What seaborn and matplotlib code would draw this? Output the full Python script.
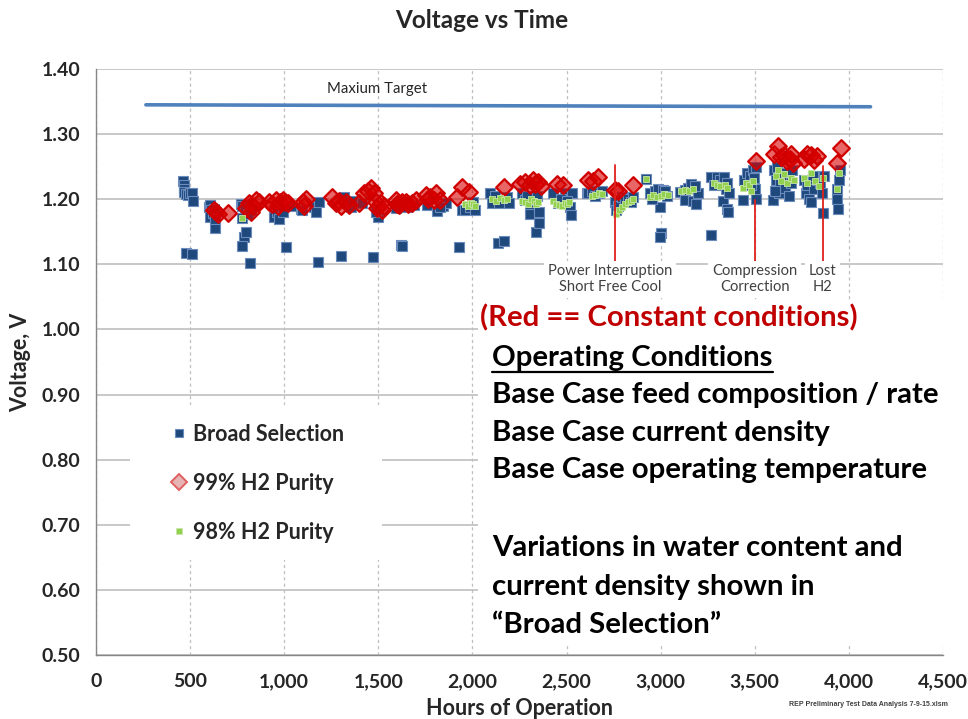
import matplotlib
matplotlib.use("Agg")
import matplotlib.pyplot as plt
import matplotlib.ticker as mticker
from matplotlib.patches import Rectangle
from matplotlib.lines import Line2D
import seaborn as sns
import pandas as pd

# ---------------- data ----------------
broad_hours = [462, 465, 467, 470, 478, 489, 500, 510, 515, 476, 512,
               600, 607, 612, 607, 619, 625, 634, 630,
               770, 777, 777, 784, 798, 774, 819, 826, 790, 805,
               948, 960, 974, 992, 1010, 1040, 1089, 1095,
               1159, 1170, 1186, 1181,
               1301, 1318, 1340, 1354, 1360, 1415,
               1472, 1500, 1490,
               1592, 1618, 1625, 1650, 1689,
               1759, 1812, 1841, 1857, 1830,
               1927, 1945, 1963, 1989, 2015, 2005,
               2095, 2104, 2139, 2135, 2167, 2183, 2192, 2120,
               2262, 2280, 2306, 2306, 2315, 2333, 2336, 2351, 2351, 2345, 2290,
               2430, 2456, 2492, 2518, 2523, 2527, 2470, 2505,
               2606, 2615, 2633, 2650, 2670, 2690,
               2757, 2765, 2775, 2792, 2810, 2827, 2853, 2840,
               2924, 2941, 2968, 2985, 2995, 3004, 2995, 3010, 3022, 3035, 2955,
               3101, 3127, 3128, 3145, 3163, 3172, 3190, 3198, 3185,
               3268, 3268, 3286, 3300, 3315, 3330, 3339, 3330, 3345, 3355, 3365, 3350, 3360,
               3436, 3445, 3460, 3475, 3490, 3498, 3507, 3500, 3480, 3505,
               3595, 3604, 3612, 3620, 3630, 3635, 3650, 3660, 3670, 3680, 3690, 3700, 3610,
               3762, 3770, 3780, 3790, 3800, 3815, 3830, 3845, 3855, 3868, 3865, 3810,
               3935, 3939, 3945, 3955, 3940]
broad_volts = [1.228, 1.222, 1.215, 1.211, 1.208, 1.206, 1.210, 1.209, 1.198, 1.118, 1.116,
               1.188, 1.191, 1.183, 1.173, 1.179, 1.185, 1.156, 1.170,
               1.193, 1.190, 1.171, 1.142, 1.149, 1.128, 1.102, 1.183, 1.186, 1.178,
               1.173, 1.180, 1.169, 1.181, 1.126, 1.190, 1.185, 1.183,
               1.188, 1.181, 1.196, 1.104,
               1.113, 1.204, 1.193, 1.188, 1.198, 1.194,
               1.111, 1.172, 1.180,
               1.186, 1.130, 1.128, 1.188, 1.191,
               1.191, 1.182, 1.189, 1.194, 1.188,
               1.127, 1.183, 1.183, 1.188, 1.183, 1.195,
               1.209, 1.194, 1.194, 1.133, 1.136, 1.204, 1.194, 1.205,
               1.209, 1.199, 1.183, 1.178, 1.196, 1.199, 1.150, 1.181, 1.163, 1.205, 1.205,
               1.209, 1.194, 1.209, 1.188, 1.176, 1.209, 1.200, 1.198,
               1.209, 1.209, 1.213, 1.205, 1.210, 1.212,
               1.196, 1.183, 1.190, 1.204, 1.200, 1.201, 1.204, 1.196,
               1.231, 1.209, 1.212, 1.215, 1.188, 1.148, 1.142, 1.214, 1.212, 1.205, 1.200,
               1.211, 1.214, 1.199, 1.218, 1.224, 1.197, 1.192, 1.209, 1.220,
               1.234, 1.145, 1.222, 1.234, 1.230, 1.222, 1.234, 1.197, 1.215, 1.225, 1.210, 1.185, 1.180,
               1.199, 1.230, 1.240, 1.235, 1.245, 1.232, 1.201, 1.215, 1.222, 1.250,
               1.199, 1.245, 1.230, 1.250, 1.210, 1.225, 1.240, 1.218, 1.235, 1.205, 1.225, 1.245, 1.212,
               1.230, 1.210, 1.222, 1.200, 1.195, 1.215, 1.230, 1.225, 1.210, 1.235, 1.179, 1.235,
               1.200, 1.215, 1.230, 1.245, 1.185]

h99_hours = [639, 625, 650, 700, 798, 815, 824, 835, 851, 865, 921, 935, 957, 965, 975,
             992, 1005, 1018, 1098, 1115, 1105, 1256, 1274, 1290, 1301, 1327, 1345, 1398,
             1424, 1445, 1460, 1477, 1486, 1495, 1513, 1521, 1530, 1592, 1600, 1610, 1628,
             1645, 1660, 1680, 1698, 1751, 1765, 1777, 1795, 1804, 1830, 1918, 1945, 1980,
             2165, 2254, 2280, 2306, 2320, 2335, 2350, 2365, 2448, 2483, 2615, 2640, 2668,
             2757, 2774, 2853, 3507, 3604, 3621, 3640, 3655, 3670, 3685, 3701, 3695, 3762,
             3780, 3800, 3815, 3830, 3939, 3956]
h99_volts = [1.181, 1.183, 1.178, 1.179, 1.186, 1.194, 1.181, 1.190, 1.199, 1.195, 1.196, 1.192, 1.199, 1.189, 1.195,
             1.199, 1.196, 1.194, 1.196, 1.200, 1.190, 1.204, 1.194, 1.198, 1.189, 1.196, 1.191, 1.194,
             1.209, 1.213, 1.217, 1.209, 1.196, 1.186, 1.194, 1.183, 1.190, 1.199, 1.192, 1.191, 1.195,
             1.196, 1.193, 1.194, 1.199, 1.206, 1.200, 1.204, 1.199, 1.209, 1.199, 1.204, 1.219, 1.211,
             1.219, 1.224, 1.226, 1.222, 1.230, 1.224, 1.226, 1.220, 1.224, 1.222, 1.230, 1.228, 1.234,
             1.214, 1.212, 1.222, 1.258, 1.270, 1.281, 1.265, 1.268, 1.258, 1.262, 1.255, 1.270, 1.262,
             1.270, 1.268, 1.260, 1.266, 1.255, 1.278]

h98_hours = [777, 1962, 1975, 1990, 2005, 2015, 2104, 2125, 2145, 2165, 2183,
             2262, 2280, 2295, 2310, 2325, 2340, 2350, 2430, 2445, 2460, 2475, 2490, 2505, 2515,
             2633, 2650, 2670, 2686, 2765, 2780, 2795, 2810, 2827, 2845, 2853,
             2924, 2941, 2960, 2980, 3000, 3020, 3040, 3110, 3130, 3150, 3172,
             3286, 3300, 3315, 3340, 3355, 3436, 3455, 3470, 3490, 3480,
             3614, 3625, 3640, 3655, 3670, 3690, 3710, 3762, 3780, 3800, 3820, 3840, 3865,
             3939, 3950]
h98_volts = [1.171, 1.193, 1.190, 1.194, 1.192, 1.189, 1.200, 1.198, 1.202, 1.199, 1.201,
             1.198, 1.196, 1.193, 1.200, 1.197, 1.192, 1.196, 1.197, 1.193, 1.191, 1.190, 1.194, 1.192, 1.195,
             1.205, 1.207, 1.210, 1.208, 1.178, 1.183, 1.188, 1.193, 1.195, 1.198, 1.200,
             1.231, 1.204, 1.206, 1.203, 1.205, 1.208, 1.207, 1.212, 1.214, 1.212, 1.216,
             1.225, 1.222, 1.220, 1.222, 1.218, 1.218, 1.225, 1.222, 1.228, 1.212,
             1.235, 1.245, 1.228, 1.238, 1.225, 1.232, 1.230, 1.232, 1.225, 1.240, 1.228, 1.220, 1.232,
             1.215, 1.240]

target_hours = [265, 4115]
target_volts = [1.345, 1.342]

event_hours = [2760, 3499, 3864]
event_top = [1.252, 1.199, 1.251]
event_bottom = [1.105, 1.105, 1.105]
event_labels = ["Power Interruption\nShort Free Cool", "Compression\nCorrection", "Lost\nH2"]
event_label_hours = [2732, 3499, 3859]

series_names = ["Broad Selection", "99% H2 Purity", "98% H2 Purity"]
x_ticks = [0, 500, 1000, 1500, 2000, 2500, 3000, 3500, 4000, 4500]
y_ticks = [0.50, 0.60, 0.70, 0.80, 0.90, 1.00, 1.10, 1.20, 1.30, 1.40]

text_lines = ["Operating Conditions",
              "Base Case feed composition / rate",
              "Base Case current density",
              "Base Case operating temperature",
              "Variations in water content and",
              "current density shown in",
              "\u201cBroad Selection\u201d"]

# ---------------- style ----------------
sns.set_style("white")
FONT = ["Lato", "DejaVu Sans"]
plt.rcParams["font.family"] = FONT

W, H = 968, 719
fig = plt.figure(figsize=(W / 100, H / 100), dpi=100)
ax = fig.add_axes([96 / W, 1 - 655 / H, 847 / W, 586 / H])

def fx(x):
    return x / W

def fy(y):
    return 1 - y / H

BLUE = "#1F497D"
RED = "#C00000"
GREEN = "#92D050"
RED_FACE = (0.85, 0.0, 0.0, 0.6)

df_b = pd.DataFrame({"h": broad_hours, "v": broad_volts})
df_r = pd.DataFrame({"h": h99_hours, "v": h99_volts})
df_g = pd.DataFrame({"h": h98_hours, "v": h98_volts})

sns.scatterplot(data=df_b, x="h", y="v", ax=ax, marker="s", s=46,
                color=BLUE, edgecolor="#6A8BBB", linewidth=0.8, zorder=3, legend=False)
sns.scatterplot(data=df_r, x="h", y="v", ax=ax, marker="D", s=72,
                facecolor=RED_FACE, edgecolor="#D00000", linewidth=1.6,
                zorder=4, legend=False)
sns.scatterplot(data=df_g, x="h", y="v", ax=ax, marker="s", s=22,
                color=GREEN, edgecolor="#C8E6A6", linewidth=0.6, zorder=5, legend=False)

df_t = pd.DataFrame({"h": target_hours, "v": target_volts})
sns.lineplot(data=df_t, x="h", y="v", ax=ax, color="#4F81BD", lw=2.6, zorder=3)
ax.text(1493, 1.369, "Maxium Target", ha="center", va="center",
        fontsize=10.8, color="#262626", zorder=6)

for h, t, b in zip(event_hours, event_top, event_bottom):
    ax.plot([h, h], [b, t], color="#E0201B", lw=1.3, zorder=6)
for h, lab in zip(event_label_hours, event_labels):
    ax.text(h, 1.077, lab, ha="center", va="center", fontsize=10.6, color="#404040",
            linespacing=1.2, zorder=7,
            bbox=dict(boxstyle="square,pad=0.25", fc="white", ec="none"))

ax.set_xlim(0, 4500)
ax.set_ylim(0.5, 1.4)
ax.set_xticks(x_ticks)
ax.set_yticks(y_ticks)
ax.xaxis.set_major_formatter(mticker.FuncFormatter(lambda v, p: f"{int(v):,}"))
ax.yaxis.set_major_formatter(mticker.FuncFormatter(lambda v, p: f"{v:.2f}"))
ax.set_axisbelow(True)
ax.yaxis.grid(True, color="#BFBFBF", lw=1.2, ls="-")
ax.xaxis.grid(True, color="#BFBFBF", lw=0.9, ls=(0, (2.5, 2.5)))
for s in ["top", "right"]:
    ax.spines[s].set_visible(False)
for s in ["left", "bottom"]:
    ax.spines[s].set_color("#868686")
    ax.spines[s].set_linewidth(1.0)
ax.tick_params(axis="y", length=5, color="#868686", width=1, pad=6, labelsize=14)
ax.tick_params(axis="x", length=0, pad=13, labelsize=14)
for lab in ax.get_xticklabels() + ax.get_yticklabels():
    lab.set_fontweight("bold")
ax.set_xlabel("Hours of Operation", fontsize=15.5, fontweight="bold", labelpad=6)
ax.set_ylabel("Voltage, V", fontsize=15.5, fontweight="bold", labelpad=8)
fig.text(fx(482), fy(20), "Voltage vs Time", ha="center", va="center",
         fontsize=17.5, fontweight="bold")

# white boxes (legend and text areas)
ax.add_patch(Rectangle(((130 - 96) / 847, (655 - 560) / 586), (382 - 130) / 847, 155 / 586,
                       transform=ax.transAxes, fc="white", ec="none", zorder=1))
ax.add_patch(Rectangle(((478 - 96) / 847, (655 - 645) / 586), 1 - (478 - 96) / 847, 345 / 586,
                       transform=ax.transAxes, fc="white", ec="none", zorder=1))

handles = [
    Line2D([], [], ls="none", marker="s", markersize=6.2, markerfacecolor=BLUE,
           markeredgecolor="#6A8BBB", markeredgewidth=0.8),
    Line2D([], [], ls="none", marker="D", markersize=8.3, markerfacecolor="#E6B4B4",
           markeredgecolor="#E06060", markeredgewidth=1.4),
    Line2D([], [], ls="none", marker="s", markersize=4.0, markerfacecolor=GREEN,
           markeredgecolor="#C8E6A6", markeredgewidth=0.6),
]
leg = ax.legend(handles, series_names, loc="upper left",
                bbox_to_anchor=((157 - 96) / 847, (655 - 413) / 586),
                frameon=False, labelspacing=1.3, handletextpad=0.15, borderpad=0,
                handlelength=1.0, prop={"weight": "bold", "size": 15.5})

fig.text(fx(480), fy(318), "(Red == Constant conditions)", ha="left", va="center",
         fontsize=21.2, fontweight="bold", color=RED)
ys = [358, 395, 433, 470, 548, 587, 625]
texts = []
for y, line in zip(ys, text_lines):
    t = fig.text(fx(492), fy(y), line, ha="left", va="center", fontsize=21.2,
                 fontweight="bold", color="black")
    texts.append(t)

fig.text(fx(868), fy(705), "REP Preliminary Test Data Analysis 7-9-15.xlsm",
         ha="center", va="center", fontsize=5, fontweight="bold", color="#404040",
         family=["Liberation Sans", "DejaVu Sans"])

fig.canvas.draw()
bb = texts[0].get_window_extent()
fig.add_artist(Line2D([bb.x0 / W, bb.x1 / W], [(bb.y0 - 1) / H, (bb.y0 - 1) / H],
                      color="black", lw=1.6, transform=fig.transFigure))

fig.savefig("out.png", dpi=100)
